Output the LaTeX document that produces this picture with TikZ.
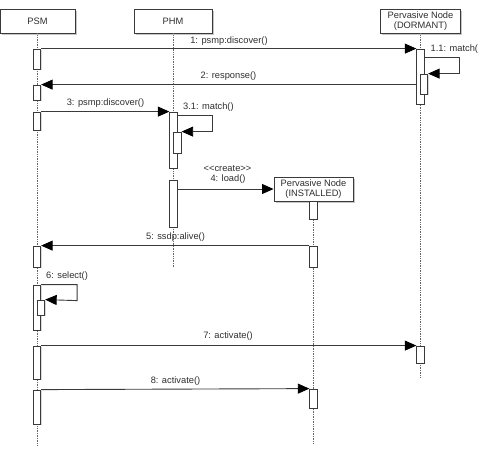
\documentclass[tikz,border=0pt]{standalone}
\usepackage{fontspec}
\setmainfont{Liberation Sans}
\usetikzlibrary{arrows.meta,shadows}
\definecolor{ln}{HTML}{3A3A3A}
\definecolor{tx}{HTML}{2E2E2E}
\begin{document}
\begin{tikzpicture}[x=1pt,y=-1pt,
  every node/.style={font=\fontsize{9.3}{10.5}\selectfont, text=tx},
  head/.style={draw=ln, line width=0.9pt, fill=white, minimum height=24pt, inner sep=1pt, align=center,
    drop shadow={shadow xshift=1.6pt, shadow yshift=-1.6pt, opacity=0.45}},
  lifeln/.style={draw=gray!80!black, line width=0.7pt, densely dotted},
  act/.style={draw=ln, line width=0.8pt, fill=white, minimum width=7.5pt, inner sep=0pt,
    drop shadow={shadow xshift=1.2pt, shadow yshift=-1.2pt, opacity=0.3}},
  msg/.style={draw=ln, line width=0.9pt, -{Triangle[length=11.5pt,width=10pt,color=black,fill=black]}},
  lbl/.style={inner sep=0pt}
]
\useasboundingbox (0,0) rectangle (478,451);

% heads
\node[head, minimum width=75pt] (psm) at (37.5,21) {PSM};
\node[head, minimum width=78pt] (phm) at (173,21) {PHM};
\node[head, minimum width=80pt] (dor) at (420.5,21) {Pervasive Node\\(DORMANT)};
\node[head, minimum width=79pt] (ins) at (313.5,189) {Pervasive Node\\(INSTALLED)};

% lifeline ends
\coordinate (psmE) at (37,445);
\coordinate (phmE) at (173.5,268);
\coordinate (dorE) at (420.5,378);
\coordinate (insE) at (313.5,443);
\draw[lifeln] (psm.south -| psmE) -- (psmE);
\draw[lifeln] (phm.south -| phmE) -- (phmE);
\draw[lifeln] (dor.south -| dorE) -- (dorE);
\draw[lifeln] (ins.south -| insE) -- (insE);

% PSM activations
\node[act, minimum height=20pt] (p1) at (37,59) {};
\node[act, minimum height=15pt] (p2) at (37,92.5) {};
\node[act, minimum height=18pt] (p3) at (37,121) {};
\node[act, minimum height=21pt] (p4) at (37,256.5) {};
\node[act, minimum height=45pt] (p5) at (37,307.5) {};
\node[act, minimum height=15pt] (p5n) at (41,307.5) {};
\node[act, minimum height=33pt] (p6) at (37,362.5) {};
\node[act, minimum height=34pt] (p7) at (37,407) {};

% PHM activations
\node[act, minimum height=56pt] (h1) at (173.5,140) {};
\node[act, minimum height=21pt] (h1n) at (177.5,142.5) {};
\node[act, minimum height=47pt] (h2) at (173.5,203.5) {};

% DORMANT activations
\node[act, minimum height=55pt] (d1) at (420.5,76.5) {};
\node[act, minimum height=20pt] (d1n) at (424,84) {};
\node[act, minimum height=17pt] (d2) at (420.5,354.5) {};

% INSTALLED activations
\node[act, minimum height=18pt] (i1) at (313.5,210) {};
\node[act, minimum height=21pt] (i2) at (313.5,256.5) {};
\node[act, minimum height=19pt] (i3) at (313.5,398.5) {};

% messages
\draw[msg] (p1.north east) -- (d1.north west);
\node[lbl] (l1) at (229,40.7) {1: psmp:discover()};

\draw[msg] (d1.north east) ++(0,9) -| ++(35,16) -- (d1n.north east);
\node[lbl, anchor=west] (l11) at (430.5,49) {1.1: match()};

\draw[msg] (d1.west |- p2.north) -- (p2.north east);
\node[lbl] (l2) at (228.5,76) {2: response()};

\draw[msg] (p3.north east) -- (h1.north west);
\node[lbl] (l3) at (105.5,103) {3: psmp:discover()};

\draw[msg] (h1.north east) ++(0,4) -| ++(35,16) -- (h1n.north east);
\node[lbl, anchor=west] (l31) at (183,107) {3.1: match()};

\draw[msg] (h2.east |- ins.west) -- (ins.west);
\node[lbl] (l4a) at (227.5,169) {<{}<create>{}>};
\node[lbl] (l4b) at (228,179) {4: load()};

\draw[msg] (i2.north west) -- (p4.north east);
\node[lbl] (l5) at (175.5,237) {5: ssdp:alive()};

\draw[msg] (p5.north east) -| ++(36,16) -- (p5n.north east);
\node[lbl, anchor=west] (l6) at (46,276) {6: select()};

\draw[msg] (p6.north east) -- (d2.north west);
\node[lbl] (l7) at (228,336) {7: activate()};

\draw[msg] (p7.north east) -- (i3.north west);
\node[lbl] (l8) at (175.5,381) {8: activate()};
\end{tikzpicture}
\end{document}
